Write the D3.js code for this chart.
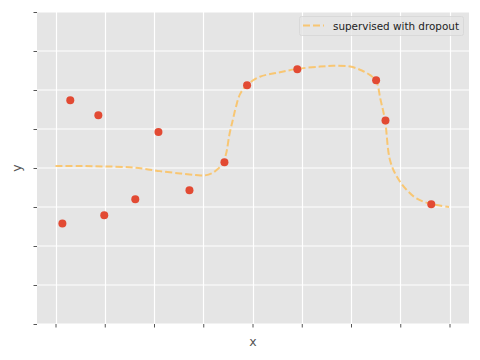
<!DOCTYPE html>
<html>
<head>
<meta charset="utf-8">
<script src="https://cdn.jsdelivr.net/npm/d3@7"></script>
<style>
  body { margin: 0; background: #fff; }
  svg { display: block; font-family: "DejaVu Sans", sans-serif; }
</style>
</head>
<body>
<script>
// observed samples (red dots)
var pointX = [0.14, 0.30, 0.87, 0.99, 1.62, 2.09, 2.72, 3.43, 3.89, 4.91, 6.51, 6.70, 7.63];
var pointY = [2.58, 5.74, 5.35, 2.79, 3.20, 4.92, 3.43, 4.15, 6.12, 6.53, 6.25, 5.22, 3.07];

// model prediction (dashed line)
var lineX = [0, 0.5, 1.0, 1.5, 1.8, 2.12, 2.53, 2.85, 3.03, 3.17, 3.30, 3.40, 3.47, 3.53, 3.60, 3.66,
             3.75, 3.89, 4.15, 4.50, 4.90, 5.37, 5.63, 5.98, 6.22, 6.39, 6.51, 6.60, 6.69, 6.79,
             6.93, 7.13, 7.33, 7.62, 7.99];
var lineY = [4.05, 4.05, 4.04, 4.02, 3.98, 3.92, 3.86, 3.82, 3.81, 3.86, 3.98, 4.12, 4.40, 4.85, 5.23, 5.55,
             5.90, 6.13, 6.34, 6.44, 6.54, 6.60, 6.62, 6.60, 6.50, 6.38, 6.24, 5.75, 5.23, 4.21,
             3.78, 3.44, 3.22, 3.08, 3.00];

var ticks = [0, 1, 2, 3, 4, 5, 6, 7, 8];
var legendLabel = "supervised with dropout";

var W = 480, H = 360;
var plot = {left: 37, right: 469, top: 12, bottom: 324};

var svg = d3.select("body").append("svg")
    .attr("width", W)
    .attr("height", H);

var xScale = d3.scaleLinear().domain([0, 8]).range([55.5, 449.5]);
var yScale = d3.scaleLinear().domain([0, 8]).range([plot.bottom, plot.top]);

// background
svg.append("rect")
    .attr("x", plot.left)
    .attr("y", plot.top)
    .attr("width", plot.right - plot.left)
    .attr("height", plot.bottom - plot.top)
    .attr("fill", "#e5e5e5");

// grid
svg.append("g").selectAll("line")
    .data(ticks).enter().append("line")
    .attr("x1", function(d) { return Math.round(xScale(d)) + 0.5; })
    .attr("x2", function(d) { return Math.round(xScale(d)) + 0.5; })
    .attr("y1", plot.top)
    .attr("y2", plot.bottom)
    .attr("stroke", "#fff")
    .attr("stroke-width", 1.2);
svg.append("g").selectAll("line")
    .data(ticks).enter().append("line")
    .attr("x1", plot.left)
    .attr("x2", plot.right)
    .attr("y1", function(d) { return yScale(d); })
    .attr("y2", function(d) { return yScale(d); })
    .attr("stroke", "#fff")
    .attr("stroke-width", 1.2);

// axes: ticks only, no labels
var xAxis = d3.axisBottom(xScale).tickValues(ticks).tickFormat("").tickSize(3.5).tickSizeOuter(0);
var yAxis = d3.axisLeft(yScale).tickValues(ticks).tickFormat("").tickSize(3.5).tickSizeOuter(0);

svg.append("g")
    .attr("class", "x axis")
    .attr("transform", "translate(0," + plot.bottom + ")")
    .call(xAxis)
    .call(function(g) { g.select(".domain").remove(); })
    .selectAll("line").attr("stroke", "#555").attr("stroke-width", 1);

svg.append("g")
    .attr("class", "y axis")
    .attr("transform", "translate(" + plot.left + ",0)")
    .call(yAxis)
    .call(function(g) { g.select(".domain").remove(); })
    .selectAll("line").attr("stroke", "#555").attr("stroke-width", 1);

// axis labels
svg.append("text")
    .attr("x", (plot.left + plot.right) / 2)
    .attr("y", 346)
    .attr("text-anchor", "middle")
    .attr("font-size", "12.5px")
    .attr("fill", "#555")
    .text("x");

svg.append("text")
    .attr("transform", "translate(21," + (plot.top + plot.bottom) / 2 + ") rotate(-90)")
    .attr("text-anchor", "middle")
    .attr("font-size", "12.5px")
    .attr("fill", "#555")
    .text("y");

// prediction line
var lineData = lineX.map(function(x, i) { return [x, lineY[i]]; });
var line = d3.line()
    .x(function(d) { return xScale(d[0]); })
    .y(function(d) { return yScale(d[1]); })
    .curve(d3.curveCatmullRom.alpha(0.5));

svg.append("path")
    .datum(lineData)
    .attr("d", line)
    .attr("fill", "none")
    .attr("stroke", "#fbc15e")
    .attr("stroke-opacity", 0.85)
    .attr("stroke-width", 2)
    .attr("stroke-dasharray", "7,3");

// samples
svg.append("g").selectAll("circle")
    .data(pointX.map(function(x, i) { return [x, pointY[i]]; }))
    .enter().append("circle")
    .attr("cx", function(d) { return xScale(d[0]); })
    .attr("cy", function(d) { return yScale(d[1]); })
    .attr("r", 4)
    .attr("fill", "#e24a33");

// legend
var legend = svg.append("g");
legend.append("rect")
    .attr("x", 299.5)
    .attr("y", 16.5)
    .attr("width", 164)
    .attr("height", 19)
    .attr("rx", 2)
    .attr("fill", "#e5e5e5")
    .attr("fill-opacity", 0.8)
    .attr("stroke", "#d6d6d6")
    .attr("stroke-width", 0.8);
legend.append("line")
    .attr("x1", 303)
    .attr("x2", 324)
    .attr("y1", 25.5)
    .attr("y2", 25.5)
    .attr("stroke", "#fbc15e")
    .attr("stroke-opacity", 0.85)
    .attr("stroke-width", 2)
    .attr("stroke-dasharray", "7,3");
legend.append("text")
    .attr("x", 333)
    .attr("y", 29.5)
    .attr("font-size", "10.4px")
    .attr("fill", "#222")
    .text(legendLabel);
</script>
</body>
</html>
